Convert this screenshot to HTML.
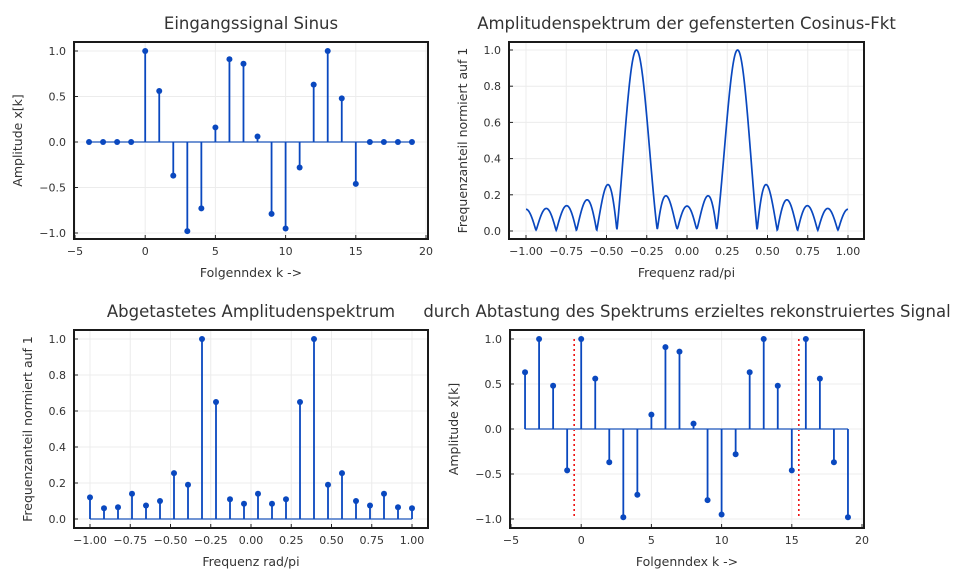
<!DOCTYPE html>
<html><head><meta charset="utf-8"><style>
body{margin:0;background:#fff;}
svg{display:block;font-family:"DejaVu Sans","Liberation Sans",sans-serif;}
.tick{font-size:11px;fill:#333;}
.lab{font-size:12.5px;fill:#333;}
.title{font-size:16.5px;fill:#333;}
</style></head><body>
<svg id="fig" width="967" height="585" viewBox="0 0 967 585"></svg>
<script>
const signalIdx = [-4,-3,-2,-1,0,1,2,3,4,5,6,7,8,9,10,11,12,13,14,15,16,17,18,19];
const signalVals = [0,0,0,0,1,0.56,-0.37,-0.98,-0.73,0.16,0.91,0.86,0.06,-0.79,-0.95,-0.28,0.63,1.0,0.48,-0.46,0,0,0,0];
const periodVals = [1,0.56,-0.37,-0.98,-0.73,0.16,0.91,0.86,0.06,-0.79,-0.95,-0.28,0.63,1.0,0.48,-0.46];
const sampledSpec = [0.12,0.06,0.065,0.14,0.075,0.10,0.255,0.19,1.0,0.65,0.11,0.085,0.14,0.085,0.11,0.65,1.0,0.19,0.255,0.10,0.075,0.14,0.065,0.06];
const recIdx = [-4,-3,-2,-1,0,1,2,3,4,5,6,7,8,9,10,11,12,13,14,15,16,17,18,19];
const periodMarks = [-0.5,15.5];
const kTicks = [-5,0,5,10,15,20];
const ampTicks = [-1.0,-0.5,0.0,0.5,1.0];
const freqTicks = [-1.0,-0.75,-0.5,-0.25,0,0.25,0.5,0.75,1.0];
const specTicks = [0,0.2,0.4,0.6,0.8,1.0];

const NS="http://www.w3.org/2000/svg";
const svg=document.getElementById('fig');
const STEM='#0a48bf', BASE='#7094d4';
function mk(tag,attrs,parent){const e=document.createElementNS(NS,tag);for(const k in attrs)e.setAttribute(k,attrs[k]);(parent||svg).appendChild(e);return e;}
function lin(d0,d1,r0,r1){return v=>r0+(v-d0)*(r1-r0)/(d1-d0);}

function axes(name,box,xs,ys,xt,yt,xfmt,yfmt,title,xl,yl,ylx){
  const g=mk('g',{});
  
  
  xt.forEach(v=>{const x=xs(v);
    mk('line',{x1:x,x2:x,y1:box.y0,y2:box.y1,stroke:'#ececec','stroke-width':1},g);
    mk('line',{x1:x,x2:x,y1:box.y1,y2:box.y1-4,stroke:'#222','stroke-width':1},g);
    const t=mk('text',{x:x,y:box.y1+16,'text-anchor':'middle',class:'tick'},g);t.textContent=xfmt(v).replace('-','\u2212');
    
    });
  yt.forEach(v=>{const y=ys(v);
    mk('line',{x1:box.x0,x2:box.x1,y1:y,y2:y,stroke:'#ececec','stroke-width':1},g);
    mk('line',{x1:box.x0,x2:box.x0+4,y1:y,y2:y,stroke:'#222','stroke-width':1},g);
    const t=mk('text',{x:box.x0-8,y:y+4,'text-anchor':'end',class:'tick'},g);t.textContent=yfmt(v).replace('-','\u2212');
    
    });
  const tt=mk('text',{x:(box.x0+box.x1)/2,y:box.y0-13,'text-anchor':'middle',class:'title'},g);tt.textContent=title;
  
  
  const xlab=mk('text',{x:(box.x0+box.x1)/2,y:box.y1+38,'text-anchor':'middle',class:'lab'},g);xlab.textContent=xl;
  
  
  const cy=(box.y0+box.y1)/2;
  const ylab=mk('text',{x:ylx,y:cy,'text-anchor':'middle',class:'lab',transform:`rotate(-90 ${ylx} ${cy})`},g);ylab.textContent=yl;
  
  
  return g;
}
function frame(box,g){const r=mk('rect',{x:box.x0,y:box.y0,width:box.x1-box.x0,height:box.y1-box.y0,fill:'none',stroke:'#1a1a1a','stroke-width':2},g);
  
  }
function stems(g,xsArr,vals,xs,ys,name){
  const y0=ys(0);
  const bl=mk('line',{x1:xs(xsArr[0]),x2:xs(xsArr[xsArr.length-1]),y1:y0,y2:y0,stroke:BASE,'stroke-width':2},g);
  
  
  xsArr.forEach((k,i)=>{const x=xs(k),y=ys(vals[i]);
    const l=mk('line',{x1:x,x2:x,y1:y0,y2:y,stroke:STEM,'stroke-width':1.8},g);
    
    
    const c=mk('circle',{cx:x,cy:y,r:3,fill:STEM},g);
    
    });
}
const f1=v=>v.toFixed(1), f0=v=>String(v), f2=v=>v.toFixed(2);

// Plot 1
{const b={x0:74,x1:428,y0:42,y1:239};const xs=lin(-5,20,75,426),ys=lin(-1,1,233,51);
 const g=axes('input-signal-chart',b,xs,ys,kTicks,ampTicks,f0,f1,'Eingangssignal Sinus','Folgenndex k ->','Amplitude x[k]',22);
 stems(g,signalIdx,signalVals,xs,ys,'signal');frame(b,g);}
// Plot 2
{const b={x0:509,x1:864,y0:42,y1:239};const xs=lin(-1,1,526,848),ys=lin(0,1,231,50);
 const g=axes('amplitude-spectrum-chart',b,xs,ys,freqTicks,specTicks,f2,f1,'Amplitudenspektrum der gefensterten Cosinus-Fkt','Frequenz rad/pi','Frequenzanteil normiert auf 1',467);
 const N=801,mag=[];let mx=0;
 for(let i=0;i<N;i++){const w=Math.PI*(-1+2*i/(N-1));let re=0,im=0;
   periodVals.forEach((v,k)=>{re+=v*Math.cos(w*k);im-=v*Math.sin(w*k);});
   const m=Math.hypot(re,im);mag.push(m);if(m>mx)mx=m;}
 let d='';mag.forEach((m,i)=>{d+=(i?'L':'M')+xs(-1+2*i/(N-1)).toFixed(2)+' '+ys(m/mx).toFixed(2);});
 const p=mk('path',{d:d,fill:'none',stroke:STEM,'stroke-width':1.7},g);
 
 
 frame(b,g);}
// Plot 3
{const b={x0:74,x1:428,y0:330,y1:528};const xs=lin(-1,1,90,412),ys=lin(0,1,519,339);
 const g=axes('sampled-spectrum-chart',b,xs,ys,freqTicks,specTicks,f2,f1,'Abgetastetes Amplitudenspektrum','Frequenz rad/pi','Frequenzanteil normiert auf 1',32);
 const fr=sampledSpec.map((_,i)=>-1+2*i/(sampledSpec.length-1));
 stems(g,fr,sampledSpec,xs,ys,'sampled-spectrum');frame(b,g);}
// Plot 4
{const b={x0:510,x1:864,y0:330,y1:528};const xs=lin(-5,20,511,862),ys=lin(-1,1,519,339);
 const g=axes('reconstructed-signal-chart',b,xs,ys,kTicks,ampTicks,f0,f1,'durch Abtastung des Spektrums erzieltes rekonstruiertes Signal','Folgenndex k ->','Amplitude x[k]',458);
 const vals=recIdx.map(k=>periodVals[((k%16)+16)%16]);
 periodMarks.forEach(m=>{const l=mk('line',{x1:xs(m),x2:xs(m),y1:ys(1),y2:ys(-1),stroke:'#ee1111','stroke-width':1.6,'stroke-dasharray':'2,3'},g);
   
   });
 stems(g,recIdx,vals,xs,ys,'reconstructed');frame(b,g);}
</script>
</body></html>
